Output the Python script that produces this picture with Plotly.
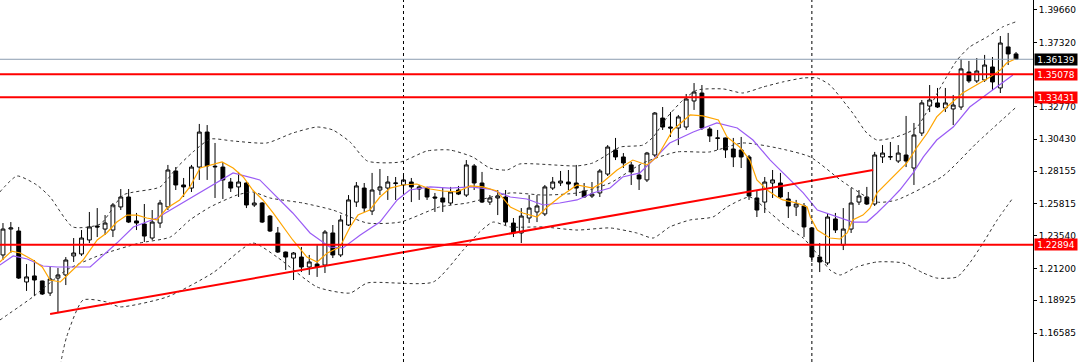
import plotly.graph_objects as go

# ---------------- data ----------------
open_ = [1.2216, 1.2401, 1.2387, 1.2023, 1.2066, 1.2030, 1.1944, 1.2051, 1.2073, 1.2209,
         1.2223, 1.2323, 1.2423, 1.2401, 1.2394, 1.2559, 1.2630, 1.2459, 1.2437, 1.2337,
         1.2444, 1.2559, 1.2816, 1.2716, 1.2694, 1.2844, 1.3094, 1.2850, 1.2844, 1.2737,
         1.2702, 1.2730, 1.2573, 1.2587, 1.2494, 1.2373, 1.2237, 1.2194, 1.2201, 1.2130,
         1.2151, 1.2144, 1.2373, 1.2216, 1.2430, 1.2594, 1.2694, 1.2530, 1.2680, 1.2694,
         1.2726, 1.2716, 1.2737, 1.2687, 1.2694, 1.2630, 1.2623, 1.2587, 1.2680, 1.2644,
         1.2852, 1.2730, 1.2594, 1.2623, 1.2630, 1.2444, 1.2373, 1.2480, 1.2523, 1.2509,
         1.2694, 1.2730, 1.2737, 1.2730, 1.2673, 1.2637, 1.2659, 1.2794, 1.2966, 1.2916,
         1.2859, 1.2787, 1.2752, 1.2930, 1.3194, 1.3130, 1.3123, 1.3130, 1.3316, 1.3373,
         1.3116, 1.3052, 1.3052, 1.2973, 1.2966, 1.2916, 1.2623, 1.2594, 1.2730, 1.2730,
         1.2616, 1.2559, 1.2566, 1.2409, 1.2201, 1.2159, 1.2473, 1.2287, 1.2401, 1.2594,
         1.2630, 1.2580, 1.2916, 1.2916, 1.2887, 1.2930, 1.2837, 1.3087, 1.3280, 1.3302,
         1.3266, 1.3259, 1.3273, 1.3523, 1.3459, 1.3466, 1.3559, 1.3409, 1.3702, 1.3652]
high = [1.2444, 1.2451, 1.2416, 1.2151, 1.2180, 1.2032, 1.2130, 1.2123, 1.2201, 1.2337,
        1.2394, 1.2523, 1.2551, 1.2501, 1.2587, 1.2687, 1.2687, 1.2516, 1.2580, 1.2537,
        1.2609, 1.2859, 1.2844, 1.2766, 1.2859, 1.3152, 1.3144, 1.3016, 1.2880, 1.2766,
        1.2809, 1.2737, 1.2666, 1.2594, 1.2501, 1.2416, 1.2240, 1.2237, 1.2273, 1.2216,
        1.2287, 1.2394, 1.2430, 1.2501, 1.2644, 1.2737, 1.2730, 1.2802, 1.2830, 1.2780,
        1.2773, 1.2787, 1.2766, 1.2716, 1.2704, 1.2659, 1.2694, 1.2702, 1.2709, 1.2894,
        1.2866, 1.2809, 1.2644, 1.2680, 1.2680, 1.2480, 1.2551, 1.2644, 1.2644, 1.2716,
        1.2773, 1.2816, 1.2823, 1.2859, 1.2730, 1.2737, 1.2830, 1.3001, 1.3052, 1.2944,
        1.2880, 1.2859, 1.2952, 1.3237, 1.3273, 1.3237, 1.3216, 1.3366, 1.3444, 1.3430,
        1.3130, 1.3109, 1.3054, 1.3052, 1.3059, 1.2930, 1.2680, 1.2773, 1.2823, 1.2802,
        1.2666, 1.2609, 1.2587, 1.2412, 1.2301, 1.2516, 1.2516, 1.2551, 1.2694, 1.2680,
        1.2702, 1.2952, 1.3001, 1.3023, 1.3001, 1.3209, 1.3159, 1.3323, 1.3430, 1.3409,
        1.3409, 1.3359, 1.3616, 1.3602, 1.3623, 1.3645, 1.3630, 1.3780, 1.3802, 1.3666]
low = [1.2180, 1.2230, 1.2044, 1.1959, 1.1923, 1.1930, 1.1923, 1.1801, 1.2001, 1.2166,
       1.2209, 1.2301, 1.2344, 1.2359, 1.2344, 1.2537, 1.2444, 1.2394, 1.2309, 1.2323,
       1.2409, 1.2537, 1.2680, 1.2630, 1.2666, 1.2752, 1.2752, 1.2623, 1.2616, 1.2666,
       1.2630, 1.2551, 1.2559, 1.2444, 1.2380, 1.2230, 1.2109, 1.2037, 1.2094, 1.2073,
       1.2059, 1.2087, 1.2194, 1.2201, 1.2423, 1.2559, 1.2523, 1.2501, 1.2644, 1.2609,
       1.2609, 1.2644, 1.2594, 1.2609, 1.2609, 1.2523, 1.2523, 1.2573, 1.2644, 1.2630,
       1.2680, 1.2587, 1.2573, 1.2501, 1.2430, 1.2344, 1.2301, 1.2444, 1.2451, 1.2494,
       1.2680, 1.2709, 1.2680, 1.2637, 1.2628, 1.2623, 1.2630, 1.2780, 1.2894, 1.2837,
       1.2716, 1.2680, 1.2737, 1.2916, 1.3109, 1.3059, 1.3001, 1.3109, 1.3252, 1.3109,
       1.3023, 1.2966, 1.2909, 1.2844, 1.2837, 1.2609, 1.2487, 1.2516, 1.2623, 1.2623,
       1.2480, 1.2494, 1.2344, 1.2166, 1.2094, 1.2144, 1.2373, 1.2251, 1.2373, 1.2573,
       1.2573, 1.2566, 1.2873, 1.2894, 1.2873, 1.2844, 1.2716, 1.3066, 1.3237, 1.3266,
       1.3237, 1.3144, 1.3252, 1.3445, 1.3445, 1.3452, 1.3394, 1.3373, 1.3573, 1.3610]
close = [1.2401, 1.2409, 1.2051, 1.2059, 1.2037, 1.1937, 1.2044, 1.2073, 1.2180, 1.2230,
         1.2337, 1.2416, 1.2416, 1.2444, 1.2573, 1.2630, 1.2451, 1.2444, 1.2351, 1.2451,
         1.2587, 1.2823, 1.2716, 1.2702, 1.2844, 1.3094, 1.2852, 1.2846, 1.2752, 1.2694,
         1.2737, 1.2573, 1.2587, 1.2451, 1.2387, 1.2237, 1.2201, 1.2230, 1.2130, 1.2166,
         1.2130, 1.2380, 1.2216, 1.2466, 1.2609, 1.2709, 1.2551, 1.2680, 1.2702, 1.2737,
         1.2730, 1.2752, 1.2702, 1.2702, 1.2630, 1.2623, 1.2594, 1.2666, 1.2651, 1.2859,
         1.2730, 1.2594, 1.2623, 1.2637, 1.2451, 1.2373, 1.2494, 1.2551, 1.2566, 1.2702,
         1.2737, 1.2744, 1.2723, 1.2694, 1.2630, 1.2651, 1.2816, 1.2987, 1.2916, 1.2873,
         1.2809, 1.2759, 1.2944, 1.3230, 1.3130, 1.3123, 1.3202, 1.3330, 1.3380, 1.3123,
         1.3066, 1.3050, 1.2966, 1.2916, 1.2916, 1.2637, 1.2537, 1.2737, 1.2752, 1.2630,
         1.2566, 1.2580, 1.2416, 1.2201, 1.2166, 1.2487, 1.2394, 1.2401, 1.2587, 1.2637,
         1.2580, 1.2930, 1.2944, 1.2918, 1.2944, 1.2887, 1.3073, 1.3302, 1.3323, 1.3273,
         1.3302, 1.3287, 1.3545, 1.3459, 1.3530, 1.3573, 1.3452, 1.3730, 1.3652, 1.36139]
bar_index = list(range(len(close)))

# fast moving average (orange)
ma_fast_x = [-0.4, 1.1, 2.2, 3.8, 5.0, 6.0, 7.3, 8.9, 10.2, 12.0, 13.2, 14.5, 15.8, 17.1, 18.3,
             19.6, 20.9, 22.5, 23.8, 25.1, 26.7, 27.9, 29.3, 30.6, 31.8, 33.1, 34.4, 35.7, 36.9,
             38.7, 40.0, 41.3, 42.9, 44.2, 45.2, 46.7, 48.0, 49.3, 50.9, 52.7, 54.4, 56.0, 57.8,
             59.5, 61.1, 62.9, 64.6, 66.2, 68.0, 69.3, 70.9, 73.1, 75.1, 76.4, 78.2, 80.2, 82.0,
             83.3, 85.3, 87.5, 89.1, 91.1, 92.2, 93.8, 95.1, 96.0, 97.3, 98.6, 99.3, 101.1, 102.4,
             102.8, 103.7, 105.3, 106.6, 107.5, 108.2, 109.5, 110.4, 111.3, 113.3, 115.1, 116.4,
             117.7, 118.9, 120.2, 122.2, 124.0, 125.7, 127.0, 127.8, 128.9]
ma_fast_y = [1.2166, 1.2244, 1.2230, 1.2180, 1.2130, 1.2037, 1.2023, 1.2109, 1.2180, 1.2323,
             1.2373, 1.2451, 1.2501, 1.2501, 1.2480, 1.2466, 1.2551, 1.2609, 1.2702, 1.2837,
             1.2859, 1.2880, 1.2837, 1.2773, 1.2680, 1.2609, 1.2516, 1.2416, 1.2323, 1.2201,
             1.2166, 1.2230, 1.2273, 1.2416, 1.2501, 1.2537, 1.2630, 1.2694, 1.2716, 1.2723,
             1.2687, 1.2673, 1.2666, 1.2709, 1.2702, 1.2673, 1.2559, 1.2516, 1.2487, 1.2559,
             1.2630, 1.2716, 1.2694, 1.2737, 1.2823, 1.2894, 1.2859, 1.2916, 1.3109, 1.3216,
             1.3209, 1.3180, 1.3059, 1.2987, 1.2894, 1.2752, 1.2680, 1.2630, 1.2609, 1.2587,
             1.2559, 1.2487, 1.2394, 1.2337, 1.2330, 1.2373, 1.2466, 1.2501, 1.2551, 1.2659,
             1.2773, 1.2873, 1.2987, 1.3087, 1.3202, 1.3273, 1.3373, 1.3430, 1.3487, 1.3537,
             1.3587, 1.3616]

# slow moving average (purple)
ma_slow_x = [-0.4, 1.3, 3.1, 5.1, 6.9, 11.1, 14.5, 16.6, 19.6, 21.3, 25.1, 29.3, 32.7, 34.9,
             36.9, 39.1, 41.6, 43.3, 45.5, 48.0, 50.2, 51.8, 54.4, 56.9, 59.5, 62.0, 64.6, 66.7,
             68.8, 70.9, 73.1, 75.1, 77.3, 78.9, 81.1, 82.4, 84.9, 87.9, 90.9, 93.5, 95.5, 97.7,
             100.2, 101.9, 103.7, 106.2, 108.2, 110.0, 111.3, 113.0, 114.2, 115.9, 117.2, 118.9,
             121.0, 123.1, 124.8, 126.6, 127.8, 128.6]
ma_slow_y = [1.2144, 1.2209, 1.2187, 1.2137, 1.2130, 1.2130, 1.2301, 1.2416, 1.2480, 1.2537,
             1.2659, 1.2802, 1.2752, 1.2630, 1.2516, 1.2373, 1.2273, 1.2266, 1.2359, 1.2451,
             1.2609, 1.2680, 1.2702, 1.2694, 1.2702, 1.2687, 1.2630, 1.2616, 1.2573, 1.2587,
             1.2609, 1.2659, 1.2694, 1.2773, 1.2802, 1.2873, 1.3016, 1.3094, 1.3159, 1.3123,
             1.3037, 1.2894, 1.2752, 1.2659, 1.2537, 1.2487, 1.2451, 1.2451, 1.2516, 1.2609,
             1.2680, 1.2802, 1.2916, 1.3037, 1.3130, 1.3273, 1.3344, 1.3416, 1.3466, 1.3502]

# bands (dashed)
band_up_x = [-0.4, 1.8, 4.3, 6.0, 8.9, 12.4, 15.3, 20.0, 22.2, 24.2, 26.4, 29.3, 33.6, 36.9,
             40.0, 42.0, 44.2, 46.4, 50.6, 54.0, 56.9, 59.8, 62.0, 64.2, 65.8, 73.1, 75.1, 77.3,
             78.6, 81.5, 82.8, 84.6, 86.6, 88.4, 91.7, 94.2, 96.8, 99.3, 101.9, 103.7, 105.3,
             106.6, 108.2, 110.0, 111.3, 113.3, 115.1, 116.4, 118.0, 119.7, 121.5, 123.1, 125.3,
             127.3, 128.9]
band_up_y = [1.2666, 1.2780, 1.2716, 1.2630, 1.2416, 1.2437, 1.2644, 1.2702, 1.2844, 1.2952,
             1.3044, 1.3030, 1.3016, 1.3087, 1.3130, 1.3109, 1.3023, 1.2887, 1.2880, 1.2959,
             1.2966, 1.2916, 1.2837, 1.2823, 1.2866, 1.2852, 1.2873, 1.2944, 1.2987, 1.3001,
             1.3059, 1.3202, 1.3323, 1.3394, 1.3402, 1.3373, 1.3416, 1.3452, 1.3480, 1.3480,
             1.3430, 1.3344, 1.3230, 1.3087, 1.3037, 1.3052, 1.3087, 1.3130, 1.3273, 1.3445,
             1.3609, 1.3702, 1.3773, 1.3845, 1.3880]
band_mid_x = [-0.4, 3.8, 8.1, 12.4, 17.4, 21.3, 23.8, 26.4, 29.8, 31.8, 34.0, 38.2, 42.0, 46.4,
              50.6, 55.6, 59.1, 64.6, 68.8, 73.1, 77.3, 81.5, 85.8, 90.0, 94.2, 98.6, 102.8,
              107.0, 111.3, 113.8, 119.7, 124.0, 128.9]
band_mid_y = [1.1751, 1.1916, 1.2109, 1.2216, 1.2301, 1.2344, 1.2466, 1.2559, 1.2644, 1.2666,
              1.2623, 1.2587, 1.2537, 1.2444, 1.2451, 1.2559, 1.2587, 1.2659, 1.2644, 1.2659,
              1.2730, 1.2873, 1.2952, 1.2952, 1.3016, 1.2980, 1.2916, 1.2737, 1.2594, 1.2609,
              1.2780, 1.3016, 1.3266]
band_low_x = [7.3, 8.1, 10.2, 13.2, 14.9, 20.9, 26.7, 31.8, 34.9, 40.0, 44.2, 46.4, 54.8, 58.6,
              60.7, 62.4, 64.6, 68.8, 73.1, 77.3, 80.7, 82.8, 84.9, 87.5, 90.4, 92.2, 95.1, 97.7,
              99.8, 101.9, 104.0, 105.3, 106.6, 108.7, 111.3, 114.6, 117.2, 118.9, 121.5, 123.1,
              124.8, 126.6, 128.6]
band_low_y = [1.1430, 1.1630, 1.1894, 1.1880, 1.1845, 1.1916, 1.2087, 1.2301, 1.2201, 1.1987,
              1.1944, 1.2016, 1.2023, 1.2251, 1.2380, 1.2451, 1.2416, 1.2416, 1.2394, 1.2409,
              1.2373, 1.2337, 1.2416, 1.2466, 1.2487, 1.2559, 1.2630, 1.2516, 1.2416, 1.2337,
              1.2201, 1.2109, 1.2073, 1.2130, 1.2166, 1.2159, 1.2087, 1.2051, 1.2059, 1.2159,
              1.2301, 1.2466, 1.2623]

# drawn objects
trend_x = [6.0, 110.8]
trend_y = [1.1794, 1.2823]
level_prices = [1.35078, 1.33431, 1.22894]
current_price = 1.36139
separator_index = [51, 103]
tick_values = [1.39660, 1.37320, 1.32770, 1.30430, 1.28155, 1.25815, 1.23540, 1.21200,
               1.18925, 1.16585]
tick_labels = ["1.39660", "1.37320", "1.32770", "1.30430", "1.28155", "1.25815", "1.23540",
               "1.21200", "1.18925", "1.16585"]

FONT = "DejaVu Sans"

fig = go.Figure()

fig.add_trace(go.Candlestick(
    x=bar_index, open=open_, high=high, low=low, close=close,
    increasing=dict(line=dict(color="#000000", width=1), fillcolor="#ffffff"),
    decreasing=dict(line=dict(color="#000000", width=1), fillcolor="#000000"),
    whiskerwidth=0, showlegend=False, hoverinfo="skip"))

for bx, by in [(band_up_x, band_up_y), (band_mid_x, band_mid_y), (band_low_x, band_low_y)]:
    fig.add_trace(go.Scatter(x=bx, y=by, mode="lines", showlegend=False, hoverinfo="skip",
                             line=dict(color="#333333", width=1, dash="3px,3px", shape="spline",
                                       smoothing=0.6)))

fig.add_trace(go.Scatter(x=ma_slow_x, y=ma_slow_y, mode="lines", showlegend=False,
                         hoverinfo="skip", line=dict(color="#9a5cf5", width=1.2)))
fig.add_trace(go.Scatter(x=ma_fast_x, y=ma_fast_y, mode="lines", showlegend=False,
                         hoverinfo="skip", line=dict(color="#ffa500", width=1.2)))

fig.add_trace(go.Scatter(x=trend_x, y=trend_y, mode="lines", showlegend=False,
                         hoverinfo="skip", line=dict(color="#ff0000", width=2)))

shapes = []
for sx in separator_index:
    shapes.append(dict(type="line", xref="x", yref="paper", x0=sx, x1=sx, y0=0, y1=1,
                       line=dict(color="#000000", width=1, dash="3px,3px")))
shapes.append(dict(type="line", xref="paper", yref="y", x0=0, x1=1, y0=current_price,
                   y1=current_price, line=dict(color="#8c9cb0", width=1)))
for lp in level_prices:
    shapes.append(dict(type="line", xref="paper", yref="y", x0=0, x1=1, y0=lp, y1=lp,
                       line=dict(color="#ff0000", width=2)))

annotations = []
annotations.append(dict(xref="paper", yref="y", x=1, y=current_price, xanchor="left",
                        yanchor="middle", xshift=1, text=f"{current_price:.5f}",
                        showarrow=False, bgcolor="#000000", width=42, height=11,
                        borderpad=0, font=dict(family=FONT, size=9, color="#ffffff")))
for lp in level_prices:
    annotations.append(dict(xref="paper", yref="y", x=1, y=lp, xanchor="left",
                            yanchor="middle", xshift=1, text=f"{lp:.5f}",
                            showarrow=False, bgcolor="#ff0000", width=42, height=11,
                            borderpad=0, font=dict(family=FONT, size=9, color="#ffffff")))

fig.update_layout(
    width=1080, height=362,
    margin=dict(l=0, r=47, t=0, b=0),
    paper_bgcolor="#ffffff", plot_bgcolor="#ffffff",
    showlegend=False,
    shapes=shapes, annotations=annotations,
    xaxis=dict(range=[-0.38, 131.16], visible=False, rangeslider=dict(visible=False),
               showgrid=False, zeroline=False),
    yaxis=dict(range=[1.14513, 1.40374], side="right", showgrid=False, zeroline=False,
               showline=True, linecolor="#000000", linewidth=1,
               ticks="outside", ticklen=3, tickcolor="#000000",
               tickvals=tick_values, ticktext=tick_labels,
               tickfont=dict(family=FONT, size=9, color="#000000")),
)

fig.write_html("out.html", config={"displayModeBar": False},
               post_script="document.body.style.margin='0';document.body.style.overflow='hidden';")
